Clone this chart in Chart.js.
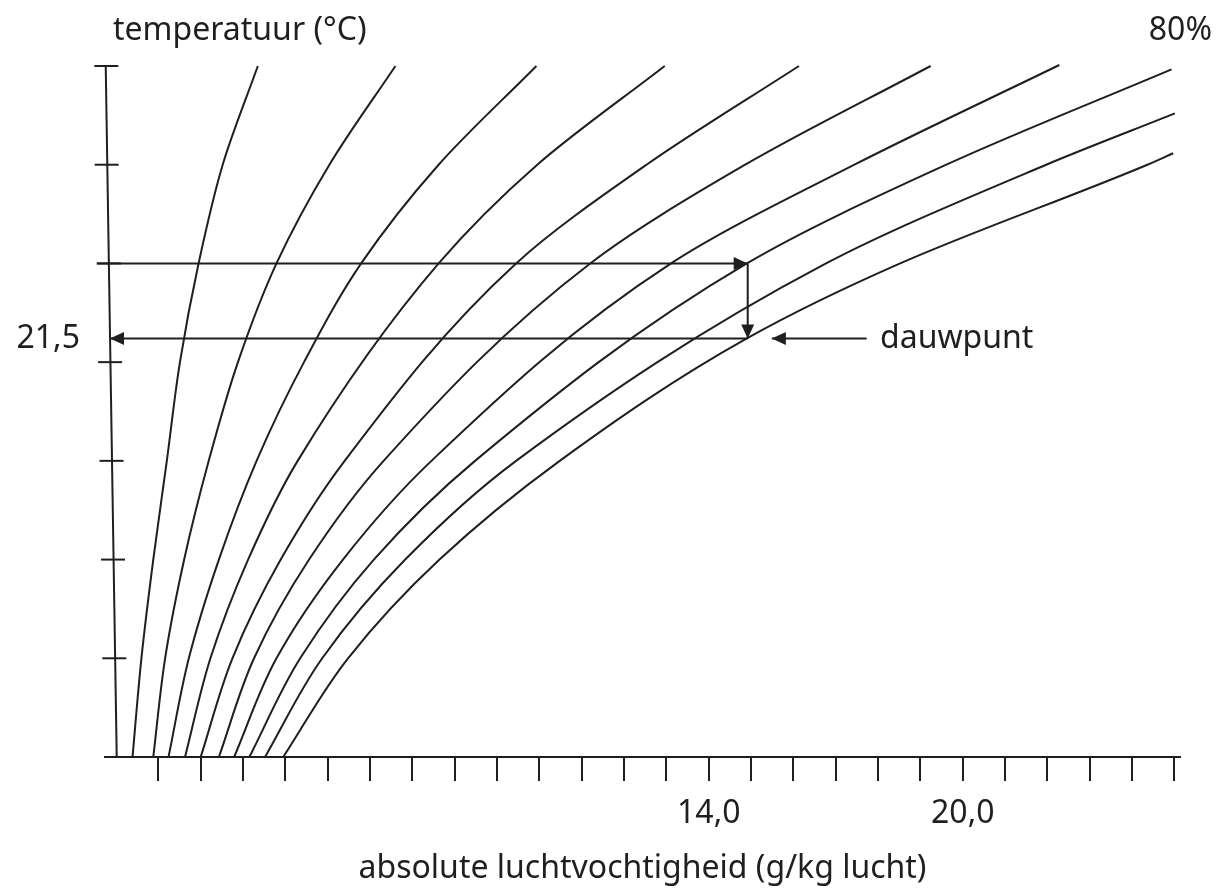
<!DOCTYPE html>
<html>
<head>
<meta charset="utf-8">
<script src="https://cdn.jsdelivr.net/npm/chart.js@4.4.1/dist/chart.umd.min.js"></script>
<style>
  html, body { margin: 0; padding: 0; background: #fff; }
  canvas { display: block; }
</style>
</head>
<body>
<canvas id="chart" width="1225" height="892"></canvas>
<script>
const rh10 = [[0.39, 0], [0.60, 5], [0.88, 10], [1.20, 15], [1.51, 20], [1.95, 25], [2.52, 30], [3.35, 35]];
const rh20 = [[0.88, 0], [1.16, 5], [1.61, 10], [2.19, 15], [2.88, 20], [3.79, 25], [5.04, 30], [6.60, 35]];
const rh30 = [[1.24, 0], [1.72, 5], [2.43, 10], [3.32, 15], [4.44, 20], [5.79, 25], [7.62, 30], [9.93, 35]];
const rh40 = [[1.63, 0], [2.23, 5], [3.12, 10], [4.29, 15], [7.62, 25], [9.95, 30], [12.96, 35]];
const rh50 = [[2.00, 0], [2.75, 5], [3.89, 10], [5.40, 15], [9.45, 25], [12.53, 30], [16.13, 35]];
const rh60 = [[2.43, 0], [3.26, 5], [4.56, 10], [6.32, 15], [11.20, 25], [14.86, 30], [19.24, 35]];
const rh70 = [[2.79, 0], [3.79, 5], [5.36, 10], [7.45, 15], [13.11, 25], [17.44, 30], [22.28, 35.05]];
const rh80 = [[3.15, 0], [4.35, 5], [6.09, 10], [8.48, 15], [14.90, 25], [19.61, 30], [24.93, 34.83]];
const rh90 = [[3.52, 0], [4.87, 5], [6.83, 10], [9.45, 15], [16.77, 25], [21.97, 30], [25.01, 32.60]];
const rh100 = [[3.95, 0], [5.48, 5], [7.64, 10], [10.48, 15], [14.90, 21.2], [18.52, 25], [24.36, 30], [24.97, 30.58]];
const rhCurves = [rh10, rh20, rh30, rh40, rh50, rh60, rh70, rh80, rh90, rh100];

// schuine temperatuuras met streepjes (x waar de as staat, temperatuur)
const tempAxisLine = [[0.017, 0], [-0.243, 35]];
const tempTicks = [[-0.04, 5], [-0.07, 10], [-0.106, 15], [-0.14, 20], [-0.165, 25], [-0.22, 30], [-0.229, 35]];

// x-as
const xTickValues = [1, 2, 3, 4, 5, 6, 7, 8, 9, 10, 11, 12, 13, 14, 15, 16, 17, 18, 19, 20, 21, 22, 23, 24, 25];
const xTickLabels = { 14: '14,0', 20: '20,0' };
const X_MIN = -0.26, X_MAX = 25.13;
const Y_MIN = 0, Y_MAX = 35;

// dauwpunt-constructie: pijlen [van, naar]
const startPoint = [14.92, 25];
const dewPoint = [14.92, 21.2];
const arrows = [
    [[-0.456, 25], startPoint],
    [startPoint, dewPoint],
    [dewPoint, [-0.142, 21.2]],
    [[17.73, 21.2], [15.49, 21.2]]
];

const INK = '#1f1f1f';
const FONT = "'Noto Sans', 'DejaVu Sans', sans-serif";

function toPoints(list) {
    return list.map(p => ({ x: p[0], y: p[1] }));
}

const datasets = [];

// de krommen lopen steil omhoog, daarom interpoleren langs de temperatuur
rhCurves.forEach(function(curve) {
    datasets.push({
        data: toPoints(curve),
        indexAxis: 'y',
        showLine: true,
        borderColor: INK,
        borderWidth: 2,
        pointRadius: 0,
        cubicInterpolationMode: 'monotone',
        clip: false
    });
});

datasets.push({
    data: toPoints(tempAxisLine),
    showLine: true,
    borderColor: INK,
    borderWidth: 2,
    pointRadius: 0,
    clip: false
});

datasets.push({
    data: toPoints(tempTicks),
    showLine: false,
    pointStyle: 'line',
    pointRadius: 12,
    borderColor: INK,
    borderWidth: 2,
    clip: false
});

arrows.forEach(function(a) {
    datasets.push({
        data: toPoints(a),
        showLine: true,
        borderColor: INK,
        borderWidth: 2,
        pointRadius: 0,
        clip: false
    });
});

// pijlpunten en losse teksten
const extrasPlugin = {
    id: 'extras',
    afterDatasetsDraw(chart) {
        const ctx = chart.ctx;
        const xs = chart.scales.x;
        const ys = chart.scales.y;
        const area = chart.chartArea;
        ctx.save();
        ctx.fillStyle = INK;
        arrows.forEach(function(a) {
            const x0 = xs.getPixelForValue(a[0][0]), y0 = ys.getPixelForValue(a[0][1]);
            const x1 = xs.getPixelForValue(a[1][0]), y1 = ys.getPixelForValue(a[1][1]);
            const ang = Math.atan2(y1 - y0, x1 - x0);
            const len = 14, half = 6.5;
            ctx.beginPath();
            ctx.moveTo(x1, y1);
            ctx.lineTo(x1 - len * Math.cos(ang) - half * Math.sin(ang), y1 - len * Math.sin(ang) + half * Math.cos(ang));
            ctx.lineTo(x1 - len * Math.cos(ang) + half * Math.sin(ang), y1 - len * Math.sin(ang) - half * Math.cos(ang));
            ctx.closePath();
            ctx.fill();
        });

        ctx.font = '32px ' + FONT;
        ctx.textBaseline = 'alphabetic';
        ctx.textAlign = 'left';
        ctx.fillText('temperatuur (°C)', 113, 40);
        ctx.fillText('dauwpunt', 880, 348);
        ctx.textAlign = 'right';
        ctx.fillText('80%', 1212, 40);
        ctx.fillText('21,5', 80, 348);
        ctx.textAlign = 'center';
        ctx.fillText('absolute luchtvochtigheid (g/kg lucht)', (area.left + area.right) / 2, 878);
        ctx.restore();
    }
};

const chart = new Chart(document.getElementById('chart'), {
    type: 'scatter',
    data: { datasets: datasets },
    options: {
        responsive: false,
        animation: false,
        layout: { padding: { left: 105, right: 45, top: 66, bottom: 0 } },
        plugins: {
            legend: { display: false },
            tooltip: { enabled: false }
        },
        scales: {
            x: {
                type: 'linear',
                min: X_MIN,
                max: X_MAX,
                afterBuildTicks: function(axis) {
                    axis.ticks = xTickValues.map(v => ({ value: v }));
                },
                afterFit: function(axis) {
                    axis.height = 135;
                },
                grid: {
                    drawOnChartArea: false,
                    drawTicks: true,
                    tickLength: 24,
                    color: INK,
                    lineWidth: 2
                },
                border: { display: true, color: INK, width: 2 },
                ticks: {
                    autoSkip: false,
                    maxRotation: 0,
                    padding: 14,
                    color: INK,
                    font: { family: FONT, size: 32 },
                    callback: function(value) {
                        return xTickLabels[value] || '';
                    }
                }
            },
            y: {
                display: false,
                min: Y_MIN,
                max: Y_MAX
            }
        }
    },
    plugins: [extrasPlugin]
});
</script>
</body>
</html>
